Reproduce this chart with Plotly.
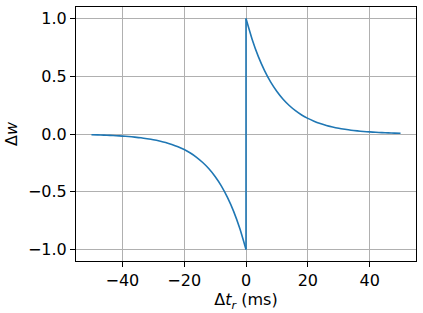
import plotly.graph_objects as go

# Delta t (ms) sample points and weight change
dt_neg = [-50, -48, -46, -44, -42, -40, -38, -36, -34, -32, -30, -28, -26, -24, -22,
          -20, -18, -16, -14, -12, -10, -8, -6, -4, -2, 0]
dw_neg = [-0.007, -0.008, -0.010, -0.012, -0.015, -0.018, -0.022, -0.027, -0.033, -0.041,
          -0.050, -0.061, -0.074, -0.091, -0.111, -0.135, -0.165, -0.202, -0.247, -0.301,
          -0.368, -0.449, -0.549, -0.670, -0.819, -1.0]
dt_pos = [0, 2, 4, 6, 8, 10, 12, 14, 16, 18, 20, 22, 24, 26, 28, 30, 32, 34, 36, 38,
          40, 42, 44, 46, 48, 50]
dw_pos = [1.0, 0.819, 0.670, 0.549, 0.449, 0.368, 0.301, 0.247, 0.202, 0.165, 0.135,
          0.111, 0.091, 0.074, 0.061, 0.050, 0.041, 0.033, 0.027, 0.022, 0.018, 0.015,
          0.012, 0.010, 0.008, 0.007]

x_ticks = [-40, -20, 0, 20, 40]
y_ticks = [-1.0, -0.5, 0.0, 0.5, 1.0]

font = dict(family="DejaVu Sans", size=16, color="black")

fig = go.Figure()
for xs, ys in ((dt_neg, dw_neg), (dt_pos, dw_pos)):
    fig.add_trace(go.Scatter(x=xs, y=ys, mode="lines",
                             line=dict(color="#1f77b4", width=1.6, shape="spline",
                                       smoothing=0.6)))
# vertical jump at 0 connecting the two branches
fig.add_trace(go.Scatter(x=[dt_neg[-1], dt_pos[0]], y=[dw_neg[-1], dw_pos[0]], mode="lines",
                         line=dict(color="#1f77b4", width=1.6)))

axis_common = dict(showline=True, linecolor="black", linewidth=1, mirror=True,
                   ticks="outside", ticklen=5, tickwidth=1, tickcolor="black",
                   showgrid=True, gridcolor="#b0b0b0", gridwidth=1, zeroline=False,
                   tickfont=font)

fig.update_layout(
    width=423, height=313,
    margin=dict(l=76, r=7, t=7, b=52),
    paper_bgcolor="white", plot_bgcolor="white",
    showlegend=False,
    font=font,
    xaxis=dict(range=[-55, 55], tickvals=x_ticks,
               title=dict(text="Δ<i>t</i><sub><i>r</i></sub> (ms)", font=font, standoff=2),
               **axis_common),
    yaxis=dict(range=[-1.1, 1.1], tickvals=y_ticks, tickformat=".1f",
               title=dict(text="Δ<i>w</i>", font=font, standoff=6),
               **axis_common),
)

fig.write_html("out.html")
